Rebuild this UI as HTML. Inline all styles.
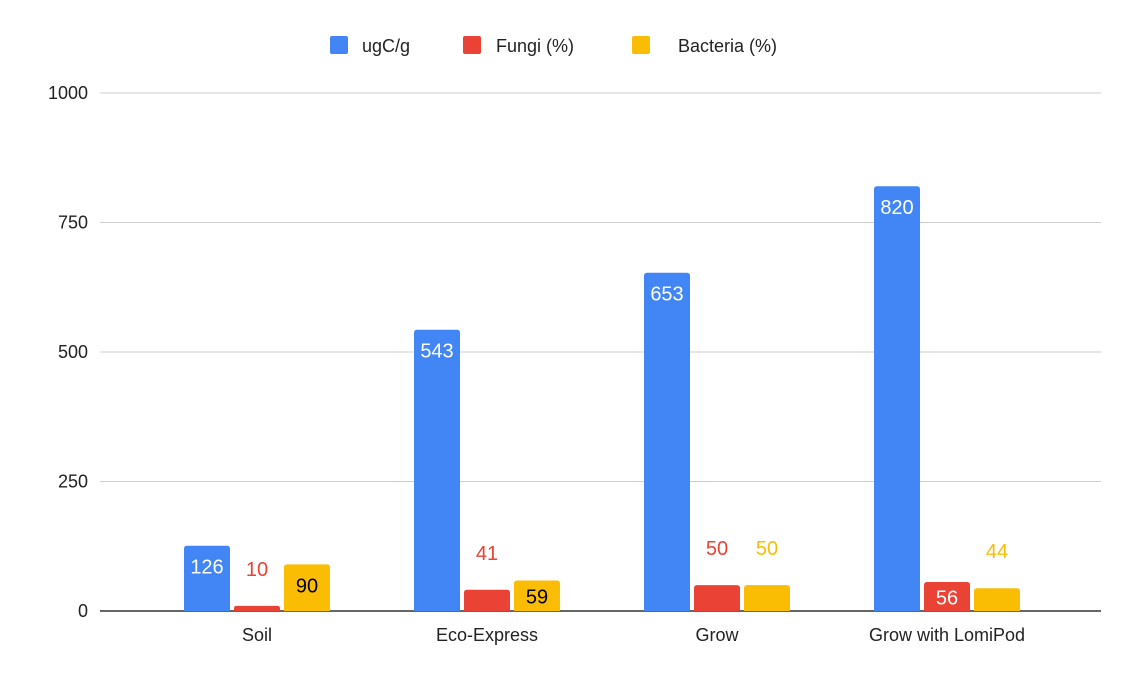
<!DOCTYPE html>
<html><head><meta charset="utf-8"><style>
body{margin:0;background:#fff;font-family:"Liberation Sans",Arial,sans-serif}
svg text{font-family:"Liberation Sans",Arial,sans-serif}
</style></head><body>
<svg id="chart" width="1136" height="682" xmlns="http://www.w3.org/2000/svg">
<g id="legend">
<g><rect x="330" y="36" width="18" height="18" rx="2" fill="#4285f4"/><text x="362" y="52" font-size="18" fill="#222">ugC/g</text></g>
<g><rect x="463" y="36" width="18" height="18" rx="2" fill="#ea4335"/><text x="496" y="52" font-size="18" fill="#222">Fungi (%)</text></g>
<g><rect x="632" y="36" width="18" height="18" rx="2" fill="#fbbc04"/><text x="678" y="52" font-size="18" fill="#222">Bacteria (%)</text></g>
</g>
<g id="grid"></g>
<g id="bars"></g>
</svg>
<script>
const categories=["Soil","Eco-Express","Grow","Grow with LomiPod"];
const ugcg=[126,543,653,820];
const fungi=[10,41,50,56];
const bacteria=[90,59,50,44];
const yTicks=[0,250,500,750,1000];
const NS="http://www.w3.org/2000/svg";
const svg=document.getElementById('chart');
const x0=100,x1=1101,yBase=611,yTop=93,yMax=1000;
const gx0=142,gx1=1062;
function y(v){return yBase-(v/yMax)*(yBase-yTop);}
function groupCenter(i){return gx0+(gx1-gx0)/categories.length*(i+0.5);}
function mk(tag,attrs,parent){const e=document.createElementNS(NS,tag);for(const k in attrs)e.setAttribute(k,attrs[k]);parent.appendChild(e);return e;}
const grid=document.getElementById('grid');
yTicks.forEach(t=>{
  const l=mk('line',{x1:x0,x2:x1,y1:y(t),y2:y(t),stroke:t===0?'#333':'#ccc','stroke-width':t===0?1.5:1},grid);
  
  
  const tx=mk('text',{x:88,y:y(t)+6,'text-anchor':'end','font-size':18,fill:'#222'},grid);
  tx.textContent=t;
  
  
});
const bars=document.getElementById('bars');
const series=[{d:ugcg,c:'#4285f4',n:'ugcg',ic:'#fff'},{d:fungi,c:'#ea4335',n:'fungi',ic:'#fff'},{d:bacteria,c:'#fbbc04',n:'bacteria',ic:'#000'}];
const bw=46,step=50;
categories.forEach((cat,i)=>{
  const cx=groupCenter(i);
  series.forEach((s,j)=>{
    const v=s.d[i];const bx=cx+(j-1)*step-bw/2;const top=y(v);const h=yBase-top;
    const r=Math.min(3,h/2);
    const p=mk('path',{d:`M${bx},${yBase}V${top+r}Q${bx},${top} ${bx+r},${top}H${bx+bw-r}Q${bx+bw},${top} ${bx+bw},${top+r}V${yBase}Z`,fill:s.c},bars);
    
    
    const inside=h>=28;
    const ly=inside?top+Math.min(28,h/2+8):top-30;
    const t=mk('text',{x:bx+bw/2,y:ly,'text-anchor':'middle','font-size':20,fill:inside?s.ic:s.c},bars);
    t.textContent=v;
    
    
  });
  const xl=mk('text',{x:cx,y:641,'text-anchor':'middle','font-size':18,fill:'#222'},bars);
  xl.textContent=cat;
  
  
});
</script>
</body></html>
